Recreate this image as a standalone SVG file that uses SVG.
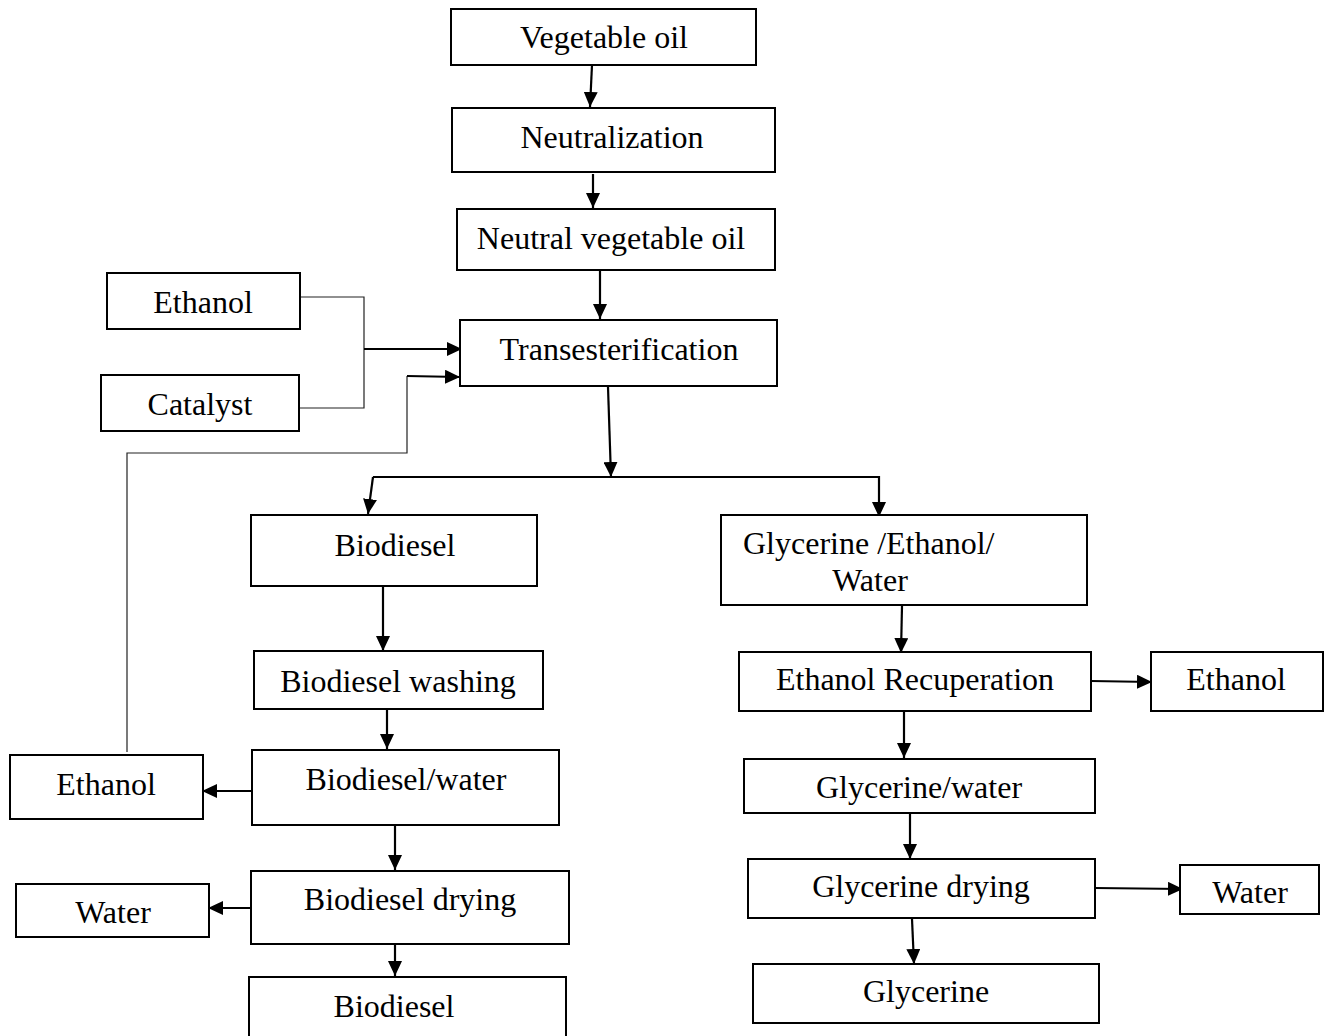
<svg xmlns="http://www.w3.org/2000/svg" width="1325" height="1036" viewBox="0 0 1325 1036">
<style>
.box{fill:#fff;stroke:#000;stroke-width:2}
.t{font-family:"Liberation Serif","Times New Roman",serif;font-size:32px;fill:#000;text-anchor:middle}
.c{fill:none;stroke:#000;stroke-width:2.2}
.thin{fill:none;stroke:#222;stroke-width:1.2}
</style>
<defs>
<marker id="ah" markerUnits="userSpaceOnUse" markerWidth="16" markerHeight="14" refX="15" refY="7" orient="auto">
<path d="M0,0 L15,7 L0,14 z" fill="#000"/>
</marker>
</defs>
<rect width="1325" height="1036" fill="#fff"/>
<g id="connectors">
<line class="c" x1="592" y1="65" x2="590" y2="107" marker-end="url(#ah)"/>
<line class="c" x1="593" y1="174" x2="593" y2="208" marker-end="url(#ah)"/>
<line class="c" x1="600" y1="271" x2="600" y2="319" marker-end="url(#ah)"/>
<polyline class="thin" points="300,297 364,297 364,408 299,408"/>
<line class="c" x1="364" y1="349" x2="462" y2="349" marker-end="url(#ah)"/>
<polyline class="thin" points="127,752 127,453 407,453 407,376"/>
<line class="c" x1="407" y1="376" x2="460" y2="377" marker-end="url(#ah)"/>
<line class="c" x1="608" y1="387" x2="611" y2="477" marker-end="url(#ah)"/>
<polyline class="c" points="373,477 879,477 879,517" marker-end="url(#ah)"/>
<line class="c" x1="373" y1="477" x2="368" y2="514" marker-end="url(#ah)"/>
<line class="c" x1="383" y1="587" x2="383" y2="651" marker-end="url(#ah)"/>
<line class="c" x1="387" y1="709" x2="387" y2="749" marker-end="url(#ah)"/>
<line class="c" x1="252" y1="791" x2="202" y2="791" marker-end="url(#ah)"/>
<line class="c" x1="395" y1="826" x2="395" y2="870" marker-end="url(#ah)"/>
<line class="c" x1="251" y1="908" x2="208" y2="908" marker-end="url(#ah)"/>
<line class="c" x1="395" y1="945" x2="395" y2="976" marker-end="url(#ah)"/>
<line class="c" x1="902" y1="606" x2="901" y2="653" marker-end="url(#ah)"/>
<line class="c" x1="1091" y1="681" x2="1152" y2="682" marker-end="url(#ah)"/>
<line class="c" x1="904" y1="712" x2="904" y2="758" marker-end="url(#ah)"/>
<line class="c" x1="910" y1="814" x2="910" y2="859" marker-end="url(#ah)"/>
<line class="c" x1="1095" y1="888" x2="1183" y2="889" marker-end="url(#ah)"/>
<line class="c" x1="912" y1="919" x2="914" y2="964" marker-end="url(#ah)"/>
</g>
<g id="n-vegoil"><rect class="box" x="451" y="9" width="305" height="56"/><text class="t" x="604" y="48">Vegetable oil</text></g>
<g id="n-neutralization"><rect class="box" x="452" y="108" width="323" height="64"/><text class="t" x="612" y="148">Neutralization</text></g>
<g id="n-neutral-oil"><rect class="box" x="457" y="209" width="318" height="61"/><text class="t" x="611" y="249">Neutral vegetable oil</text></g>
<g id="n-ethanol-in"><rect class="box" x="107" y="273" width="193" height="56"/><text class="t" x="203" y="313">Ethanol</text></g>
<g id="n-catalyst"><rect class="box" x="101" y="375" width="198" height="56"/><text class="t" x="200" y="415">Catalyst</text></g>
<g id="n-trans"><rect class="box" x="460" y="320" width="317" height="66"/><text class="t" x="619" y="360">Transesterification</text></g>
<g id="n-biodiesel1"><rect class="box" x="251" y="515" width="286" height="71"/><text class="t" x="395" y="556">Biodiesel</text></g>
<g id="n-gew"><rect class="box" x="721" y="515" width="366" height="90"/><text class="t" x="743" y="554" style="text-anchor:start">Glycerine /Ethanol/</text><text class="t" x="870" y="591">Water</text></g>
<g id="n-washing"><rect class="box" x="254" y="651" width="289" height="58"/><text class="t" x="398" y="692">Biodiesel washing</text></g>
<g id="n-bw"><rect class="box" x="252" y="750" width="307" height="75"/><text class="t" x="406" y="790">Biodiesel/water</text></g>
<g id="n-ethanol-left"><rect class="box" x="10" y="755" width="193" height="64"/><text class="t" x="106" y="795">Ethanol</text></g>
<g id="n-bdrying"><rect class="box" x="251" y="871" width="318" height="73"/><text class="t" x="410" y="910">Biodiesel drying</text></g>
<g id="n-water-left"><rect class="box" x="16" y="884" width="193" height="53"/><text class="t" x="113" y="923">Water</text></g>
<g id="n-biodiesel2"><rect class="box" x="249" y="977" width="317" height="64"/><text class="t" x="394" y="1017">Biodiesel</text></g>
<g id="n-erecup"><rect class="box" x="739" y="652" width="352" height="59"/><text class="t" x="915" y="690">Ethanol Recuperation</text></g>
<g id="n-ethanol-right"><rect class="box" x="1151" y="652" width="172" height="59"/><text class="t" x="1236" y="690">Ethanol</text></g>
<g id="n-gw"><rect class="box" x="744" y="759" width="351" height="54"/><text class="t" x="919" y="798">Glycerine/water</text></g>
<g id="n-gdrying"><rect class="box" x="748" y="859" width="347" height="59"/><text class="t" x="921" y="897">Glycerine drying</text></g>
<g id="n-water-right"><rect class="box" x="1180" y="865" width="139" height="49"/><text class="t" x="1250" y="903">Water</text></g>
<g id="n-glycerine"><rect class="box" x="753" y="964" width="346" height="59"/><text class="t" x="926" y="1002">Glycerine</text></g>
</svg>
